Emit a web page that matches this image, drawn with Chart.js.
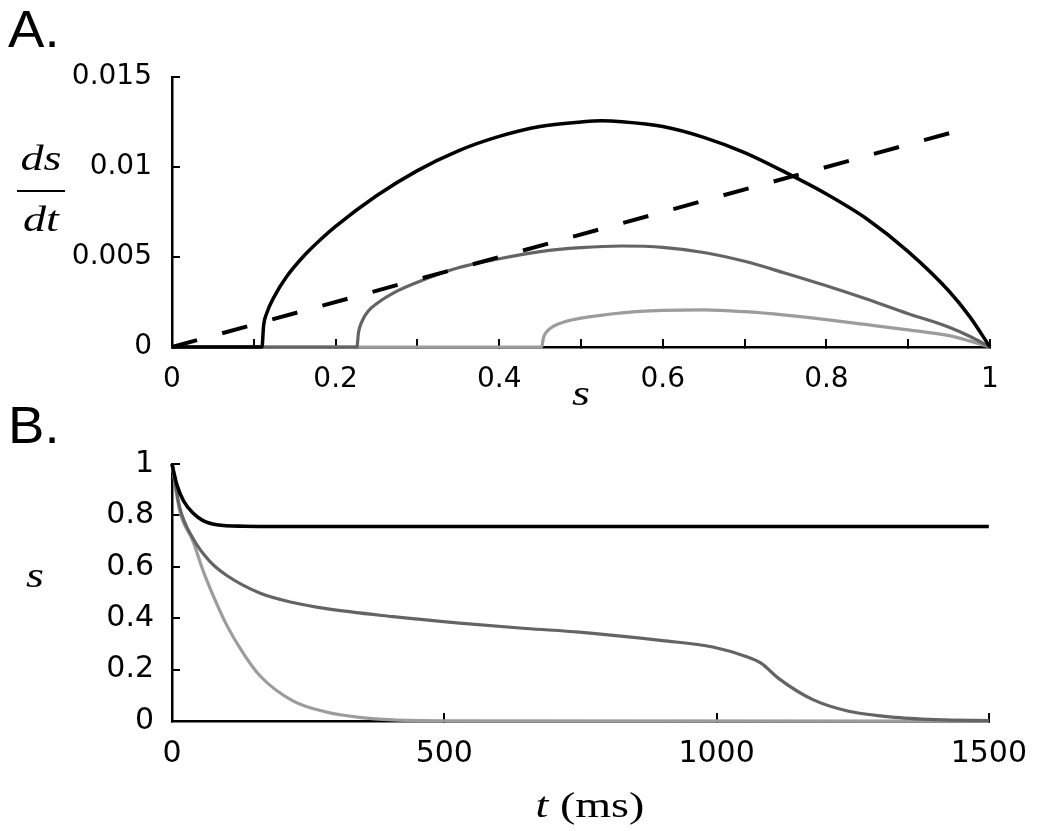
<!DOCTYPE html>
<html>
<head>
<meta charset="utf-8">
<script src="https://cdn.jsdelivr.net/npm/chart.js@4"></script>
<style>
  body { margin: 0; background: #fff; }
  #wrap { position: relative; width: 1050px; height: 831px; overflow: hidden; }
  canvas { position: absolute; left: 0; }
  #chartA { top: 0; }
  #chartB { top: 420px; }
  .panel { position: absolute; font-family: "Liberation Sans", Arial, sans-serif; font-size: 52px; line-height: 1; color: #000; transform: scaleX(1.05); transform-origin: left top; }
  .math { position: absolute; font-family: "Liberation Serif", "Times New Roman", serif; font-style: italic; font-size: 36px; line-height: 1; color: #000; transform: translateX(-50%) scaleX(1.28); white-space: nowrap; }
  .math .rm { font-style: normal; }
  #bar { position: absolute; left: 17px; top: 190px; width: 48px; height: 2px; background: #000; }
</style>
</head>
<body>
<div id="wrap">
  <canvas id="chartA" width="1050" height="420"></canvas>
  <canvas id="chartB" width="1050" height="411"></canvas>
  <div class="panel" style="left:8px; top:3px;">A.</div>
  <div class="panel" style="left:8px; top:399px;">B.</div>
  <div class="math" style="left:41px; top:140px;">ds</div>
  <div id="bar"></div>
  <div class="math" style="left:41px; top:201px;">dt</div>
  <div class="math" style="left:581px; top:375px;">s</div>
  <div class="math" style="left:35px; top:557px;">s</div>
  <div class="math" style="left:590px; top:787px;">t <span class="rm">(ms)</span></div>
</div>
<script>
// ---- Panel A: ds/dt against s ----
const blackS    = [0, 0.110, 0.112, 0.116, 0.125, 0.14, 0.16, 0.18, 0.20, 0.25, 0.30, 0.35, 0.40, 0.45, 0.50, 0.525, 0.55, 0.60, 0.65, 0.70, 0.75, 0.80, 0.85, 0.90, 0.95, 0.975, 1.0]
const blackRate = [0, 0, 0.0012, 0.0019, 0.0028, 0.0039, 0.0050, 0.0059, 0.0067, 0.0084, 0.0098, 0.0109, 0.0117, 0.01225, 0.0125, 0.01257, 0.01252, 0.01225, 0.01165, 0.0108, 0.0097, 0.0085, 0.0071, 0.0053, 0.0031, 0.0017, 0]

const darkS    = [0, 0.226, 0.228, 0.232, 0.24, 0.25, 0.275, 0.30, 0.35, 0.40, 0.45, 0.50, 0.55, 0.60, 0.65, 0.70, 0.75, 0.80, 0.85, 0.90, 0.95, 0.975, 1.0]
const darkRate = [0, 0, 0.0008, 0.0014, 0.0020, 0.0024, 0.0031, 0.0036, 0.0044, 0.0049, 0.0053, 0.00552, 0.00561, 0.00554, 0.00525, 0.00476, 0.0041, 0.0034, 0.00265, 0.00185, 0.0011, 0.0006, 0]

const lightS    = [0, 0.452, 0.454, 0.458, 0.466, 0.48, 0.50, 0.55, 0.60, 0.65, 0.70, 0.75, 0.80, 0.85, 0.90, 0.95, 0.975, 1.0]
const lightRate = [0, 0, 0.0005, 0.00085, 0.00115, 0.0014, 0.0016, 0.0019, 0.00203, 0.00206, 0.00196, 0.00177, 0.00152, 0.00124, 0.00095, 0.00063, 0.00034, 0]

const lossS    = [0, 0.972]
const lossRate = [0, 0.01215]

const sTickLabels    = ["0", "", "0.2", "", "0.4", "", "0.6", "", "0.8", "", "1"]
const rateTickLabels = ["0", "0.005", "0.01", "0.015"]

// ---- Panel B: s against t ----
const blackT = [0, 9, 21, 39, 57, 82, 131, 200, 1500]
const blackV = [1, 0.919, 0.857, 0.808, 0.780, 0.764, 0.758, 0.757, 0.757]

const darkT = [0, 14, 39, 69, 100, 161, 222, 283, 406, 528, 650, 748, 901, 993, 1054, 1081, 1115, 1176, 1237, 1329, 1420, 1500]
const darkV = [1, 0.832, 0.709, 0.622, 0.567, 0.498, 0.461, 0.437, 0.406, 0.381, 0.360, 0.346, 0.313, 0.288, 0.251, 0.226, 0.164, 0.084, 0.041, 0.014, 0.004, 0.002]

const lightT = [0, 14, 39, 57, 76, 100, 131, 161, 222, 283, 344, 406, 500, 1500]
const lightV = [1, 0.820, 0.697, 0.585, 0.486, 0.375, 0.263, 0.177, 0.078, 0.035, 0.014, 0.004, 0.001, 0]

const tTickLabels = ["0", "500", "1000", "1500"]
const vTickLabels = ["0", "0.2", "0.4", "0.6", "0.8", "1"]

const colors = { black: "#000000", dark: "#646464", light: "#9c9c9c" }

const toPoints = (xs, ys) => xs.map((x, i) => ({ x: x, y: ys[i] }))

const curve = (xs, ys, color, width, extra) => Object.assign({
  data: toPoints(xs, ys),
  borderColor: color,
  borderWidth: width,
  pointRadius: 0,
  cubicInterpolationMode: "monotone",
  clip: false,
}, extra || {})

const axis = (labels, opts) => ({
  type: "linear",
  min: opts.min,
  max: opts.max,
  afterFit: opts.fit,
  border: { display: true, color: "#000", width: 2.5 },
  grid: { drawOnChartArea: false, drawTicks: true, tickLength: -8, color: "#000", lineWidth: 2 },
  ticks: {
    stepSize: opts.step,
    autoSkip: false,
    maxRotation: 0,
    padding: opts.pad,
    color: "#000",
    font: { family: "DejaVu Sans", size: opts.size },
    callback: (v, i) => labels[i],
  },
})

const baseOptions = (pad, xAxis, yAxis) => ({
  responsive: false,
  animation: false,
  layout: { padding: pad },
  plugins: { legend: { display: false }, tooltip: { enabled: false } },
  scales: { x: xAxis, y: yAxis },
})

new Chart(document.getElementById("chartA"), {
  type: "line",
  data: {
    datasets: [
      curve(lossS, lossRate, colors.black, 4, { borderDash: [26, 26], cubicInterpolationMode: "default" }),
      curve(blackS, blackRate, colors.black, 3.5),
      curve(darkS, darkRate, colors.dark, 3.2),
      curve(lightS, lightRate, colors.light, 3.2),
    ],
  },
  options: baseOptions(
    { top: 77, right: 60, left: 0, bottom: 0 },
    axis(sTickLabels, { min: 0, max: 1, step: 0.1, pad: 24, size: 28, fit: (s) => { s.height = 73 } }),
    axis(rateTickLabels, { min: 0, max: 0.015, step: 0.005, pad: 28, size: 28, fit: (s) => { s.width = 172 } })
  ),
})

new Chart(document.getElementById("chartB"), {
  type: "line",
  data: {
    datasets: [
      curve(blackT, blackV, colors.black, 3.6),
      curve(darkT, darkV, colors.dark, 3.2),
      curve(lightT, lightV, colors.light, 3.2),
    ],
  },
  options: baseOptions(
    { top: 32, right: 60, left: 0, bottom: 0 },
    axis(tTickLabels, { min: 0, max: 1500, step: 500, pad: 23, size: 30, fit: (s) => { s.height = 110 } }),
    axis(vTickLabels, { min: 0, max: 1, step: 0.2, pad: 26, size: 30, fit: (s) => { s.width = 172 } })
  ),
})
</script>
</body>
</html>
